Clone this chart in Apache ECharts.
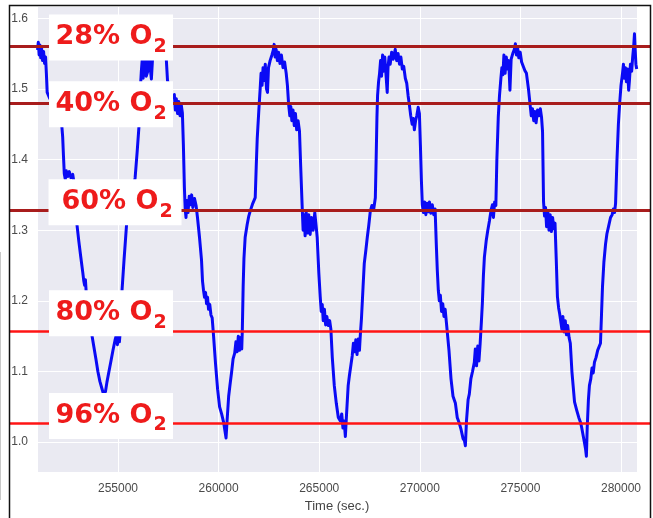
<!DOCTYPE html>
<html><head><meta charset="utf-8">
<script src="https://cdn.jsdelivr.net/npm/echarts@6/dist/echarts.min.js"></script>
<style>html,body{margin:0;padding:0;background:#fff}#c{width:653px;height:518px}</style>
</head><body><div id="c"></div>
<script>
// ---- data ----
const timeSec = [
251000,251040,251080,251120,251160,251200,251250,251300,251350,251400,251440,251480,251600,251800,252000,252200,252250,252290,252330,252380,
252430,252500,252580,252660,252750,252820,252900,252960,253050,253150,253250,253300,253340,253380,253420,253550,253700,253800,253900,254000,
254100,254200,254300,254380,254450,254550,254650,254750,254850,254920,254970,255020,255070,255120,255200,255300,255380,255450,255600,255750,
255850,255950,256050,256100,256160,256200,256250,256300,256350,256400,256480,256540,256600,256660,256720,256800,256950,257100,257250,257400,
257460,257520,257600,257700,257800,257850,257900,257960,258020,258080,258140,258200,258250,258300,258340,258380,258420,258480,258540,258600,
258660,258720,258800,258880,258950,259050,259150,259200,259250,259300,259350,259400,259450,259500,259560,259620,259680,259750,259850,259950,
260050,260150,260250,260320,260370,260420,260500,260570,260650,260720,260800,260860,260920,260980,261040,261100,261150,261180,261220,261260,
261320,261420,261500,261570,261700,261820,261870,261920,262000,262065,262110,262160,262210,262260,262320,262380,262430,262480,262560,262650,
262720,262760,262810,262860,262920,262980,263050,263120,263200,263280,263360,263420,263480,263540,263590,263640,263700,263760,263820,263880,
263950,264020,264080,264150,264200,264250,264300,264350,264420,264480,264550,264620,264700,264780,264850,264900,264980,265050,265100,265150,
265200,265260,265320,265380,265450,265520,265580,265650,265750,265850,265950,266050,266120,266180,266240,266300,266360,266440,266500,266580,
266640,266700,266760,266820,266880,266940,267000,267040,267100,267180,267240,267320,267390,267460,267540,267620,267700,267790,267830,267870,
267900,267950,268000,268050,268100,268150,268200,268260,268320,268380,268420,268470,268530,268600,268680,268780,268850,268920,268990,269060,
269130,269200,269280,269350,269420,269480,269550,269620,269680,269730,269790,269850,269920,269980,270030,270080,270125,270180,270240,270300,
270360,270420,270480,270550,270620,270690,270760,270820,270870,270920,270970,271020,271080,271140,271200,271260,271320,271380,271450,271550,
271650,271770,271860,271950,272050,272150,272220,272265,272320,272400,272460,272540,272620,272710,272760,272820,272880,272940,273000,273060,
273110,273160,273210,273300,273380,273460,273540,273610,273660,273720,273780,273830,273900,273960,274030,274080,274130,274180,274240,274300,
274360,274420,274480,274540,274620,274700,274750,274800,274860,274920,274990,275060,275140,275220,275300,275400,275480,275540,275600,275660,
275720,275780,275850,275920,275990,276050,276100,276150,276200,276250,276300,276360,276420,276480,276540,276600,276660,276720,276780,276840,
276900,276950,277000,277060,277110,277170,277230,277290,277350,277420,277480,277560,277690,277800,277900,277990,278050,278120,278180,278240,
278280,278320,278380,278430,278500,278560,278620,278680,278760,278840,278920,278980,279030,279080,279150,279230,279300,279380,279480,279560,
279620,279680,279730,279800,279870,279925,280000,280075,280120,280170,280220,280270,280330,280380,280420,280470,280530,280580,280630,280670,
280700,280740,280780
];
const ratio = [
1.555,1.566,1.548,1.562,1.544,1.558,1.540,1.553,1.536,1.545,1.522,1.495,1.487,1.476,1.465,1.450,1.432,1.405,1.380,1.372,
1.384,1.376,1.383,1.374,1.379,1.366,1.340,1.308,1.285,1.262,1.240,1.228,1.222,1.230,1.212,1.190,1.152,1.135,1.118,1.100,
1.086,1.076,1.066,1.072,1.085,1.100,1.115,1.130,1.144,1.152,1.138,1.156,1.142,1.160,1.215,1.258,1.290,1.318,1.340,1.358,
1.374,1.410,1.450,1.495,1.525,1.540,1.515,1.545,1.555,1.518,1.525,1.550,1.530,1.514,1.545,1.555,1.548,1.552,1.545,1.542,
1.512,1.505,1.498,1.488,1.492,1.470,1.486,1.465,1.482,1.462,1.478,1.466,1.420,1.360,1.330,1.318,1.342,1.325,1.348,1.336,
1.350,1.332,1.345,1.335,1.318,1.290,1.258,1.228,1.215,1.205,1.212,1.196,1.205,1.188,1.195,1.180,1.176,1.150,1.110,1.075,
1.050,1.040,1.028,1.015,1.006,1.030,1.065,1.082,1.100,1.118,1.126,1.142,1.128,1.150,1.130,1.148,1.132,1.160,1.220,1.260,
1.290,1.308,1.320,1.327,1.338,1.346,1.390,1.430,1.470,1.500,1.522,1.505,1.530,1.512,1.535,1.500,1.495,1.530,1.540,1.548,
1.555,1.563,1.545,1.556,1.540,1.552,1.536,1.548,1.530,1.538,1.522,1.505,1.478,1.462,1.475,1.455,1.470,1.448,1.465,1.442,
1.455,1.440,1.390,1.336,1.300,1.322,1.292,1.326,1.296,1.322,1.294,1.318,1.300,1.325,1.305,1.290,1.240,1.206,1.185,1.195,
1.172,1.188,1.166,1.178,1.165,1.172,1.160,1.120,1.080,1.055,1.035,1.030,1.040,1.020,1.030,1.008,1.040,1.080,1.094,1.110,
1.122,1.140,1.128,1.145,1.124,1.146,1.130,1.150,1.175,1.220,1.253,1.272,1.290,1.306,1.327,1.335,1.328,1.346,1.400,1.460,
1.490,1.510,1.522,1.540,1.518,1.548,1.525,1.545,1.520,1.495,1.530,1.545,1.535,1.552,1.542,1.556,1.540,1.550,1.535,1.545,
1.528,1.532,1.515,1.508,1.490,1.478,1.462,1.450,1.458,1.442,1.455,1.462,1.474,1.465,1.420,1.370,1.336,1.325,1.340,1.322,
1.338,1.326,1.340,1.324,1.336,1.322,1.330,1.280,1.243,1.215,1.200,1.208,1.185,1.196,1.178,1.188,1.170,1.168,1.130,1.090,
1.065,1.055,1.035,1.028,1.018,1.005,1.002,0.995,1.030,1.060,1.068,1.090,1.100,1.113,1.132,1.108,1.136,1.115,1.140,1.170,
1.197,1.235,1.262,1.285,1.300,1.313,1.328,1.336,1.318,1.340,1.335,1.400,1.460,1.490,1.515,1.530,1.520,1.548,1.522,1.545,
1.528,1.540,1.498,1.542,1.550,1.556,1.564,1.548,1.558,1.544,1.552,1.538,1.540,1.526,1.522,1.500,1.478,1.462,1.472,1.455,
1.468,1.452,1.470,1.462,1.472,1.460,1.440,1.340,1.320,1.332,1.305,1.328,1.300,1.322,1.298,1.318,1.302,1.310,1.260,1.206,
1.190,1.182,1.172,1.160,1.178,1.156,1.172,1.152,1.165,1.148,1.140,1.100,1.057,1.045,1.035,1.028,1.020,1.018,1.000,0.990,
0.980,1.020,1.060,1.080,1.090,1.105,1.098,1.113,1.120,1.130,1.128,1.140,1.180,1.220,1.255,1.280,1.295,1.305,1.318,1.322,
1.330,1.325,1.338,1.400,1.450,1.476,1.505,1.522,1.535,1.515,1.530,1.510,1.528,1.498,1.512,1.535,1.525,1.545,1.560,1.578,
1.558,1.535,1.528
];
const thresholdLevels = [1.559, 1.482, 1.333, 1.164, 1.033];
const thresholdNames = ['28%', '40%', '60%', '80%', '96%'];
const xTickLabels = ['255000','260000','265000','270000','275000','280000'];
const yTickLabels = ['1.0','1.1','1.2','1.3','1.4','1.5','1.6'];

// ---- layout & style ----
const X_MIN = 250974, X_MAX = 280795;
const Y_MIN = 0.9578, Y_MAX = 1.6173;
const lineColors = ['#a81c1c', '#a81c1c', '#a81c1c', '#ff1414', '#ff1414'];
const lineWidths = [3, 3, 3, 2.5, 2.5];
const labelOffsets = [[0, -10], [0, 2], [4, -6], [0, -15], [0, -5.5]];
const labelWidths = [112, 112, 117, 112, 112];
const labelPadL = [6, 6, 10, 6, 6];
const LABEL_ANCHOR = 0.1576;
const RED = '#ee1b1b';

const series = [{
  type: 'line',
  xAxisIndex: 0, yAxisIndex: 0,
  data: timeSec.map((t, i) => [t, ratio[i]]),
  showSymbol: false, symbol: 'none', sampling: false,
  lineStyle: { color: '#0a0af5', width: 3, join: 'round' },
  z: 2, silent: true
}, {
  type: 'line',
  xAxisIndex: 1, yAxisIndex: 1,
  data: [],
  z: 3, silent: true,
  markLine: {
    silent: true, symbol: ['none', 'none'], animation: false,
    label: { show: false },
    data: thresholdLevels.map((v, i) => ({ yAxis: v, lineStyle: { color: lineColors[i], width: lineWidths[i], type: 'solid', opacity: 1 } }))
  }
}, {
  type: 'scatter',
  xAxisIndex: 1, yAxisIndex: 1,
  z: 5, silent: true,
  symbol: 'rect', symbolSize: 1,
  itemStyle: { color: 'rgba(0,0,0,0)', opacity: 1 },
  data: thresholdLevels.map((v, i) => ({
    value: [LABEL_ANCHOR, v],
    label: {
      show: true, position: 'inside', opacity: 1,
      offset: labelOffsets[i],
      formatter: '{a|' + thresholdNames[i] + ' O}{b|2}',
      backgroundColor: '#ffffff',
      padding: [3, 6, 4, labelPadL[i]],
      width: labelWidths[i],
      rich: {
        a: { fontFamily: 'DejaVu Sans', fontWeight: 'bold', fontSize: 27, color: RED },
        b: { fontFamily: 'DejaVu Sans', fontWeight: 'bold', fontSize: 19, color: RED, padding: [20, 0, 0, 1] }
      }
    }
  }))
}];

const chart = echarts.init(document.getElementById('c'), null, { renderer: 'canvas' });
chart.setOption({
  animation: false,
  backgroundColor: '#ffffff',
  grid: [
    { left: 37, right: 16, top: 6, bottom: 43, show: true, backgroundColor: '#eaeaf2', borderWidth: 0 },
    { left: 10, right: 2, top: 6, bottom: 43, show: false }
  ],
  xAxis: [{
    type: 'value', gridIndex: 0, min: X_MIN, max: X_MAX, splitNumber: 6,
    name: 'Time (sec.)', nameLocation: 'middle', nameGap: 28,
    nameTextStyle: { color: '#444', fontSize: 13, fontFamily: 'Liberation Sans' },
    axisLine: { show: false }, axisTick: { show: false },
    axisLabel: {
      color: '#4a4a4a', fontSize: 12, fontFamily: 'Liberation Sans', margin: 11,
      showMinLabel: false, showMaxLabel: false,
      formatter: v => { const s = String(Math.round(v)); return xTickLabels.includes(s) ? s : ''; }
    },
    splitLine: { show: true, lineStyle: { color: '#ffffff', width: 1 } }
  }, {
    type: 'value', gridIndex: 1, min: 0, max: 1, show: false
  }],
  yAxis: [{
    type: 'value', gridIndex: 0, min: Y_MIN, max: Y_MAX, splitNumber: 6,
    axisLine: { show: false }, axisTick: { show: false },
    axisLabel: {
      color: '#4a4a4a', fontSize: 12, fontFamily: 'Liberation Sans', margin: 9,
      showMinLabel: false, showMaxLabel: false,
      formatter: v => { const s = v.toFixed(1); return yTickLabels.includes(s) && Math.abs(v - Number(s)) < 1e-6 ? s : ''; }
    },
    splitLine: { show: true, lineStyle: { color: '#ffffff', width: 1 } }
  }, {
    type: 'value', gridIndex: 1, min: Y_MIN, max: Y_MAX, show: false
  }],
  graphic: [
    { type: 'polyline', silent: true, z: 10, shape: { points: [[9.5, 518], [9.5, 5.5], [650.5, 5.5], [650.5, 518]] }, style: { stroke: '#111', lineWidth: 1.5, fill: null } },
    { type: 'line', silent: true, z: 10, shape: { x1: 0.5, y1: 252, x2: 0.5, y2: 500 }, style: { stroke: '#c8c8c8', lineWidth: 1 } }
  ],
  series: series
});
</script>
</body></html>
